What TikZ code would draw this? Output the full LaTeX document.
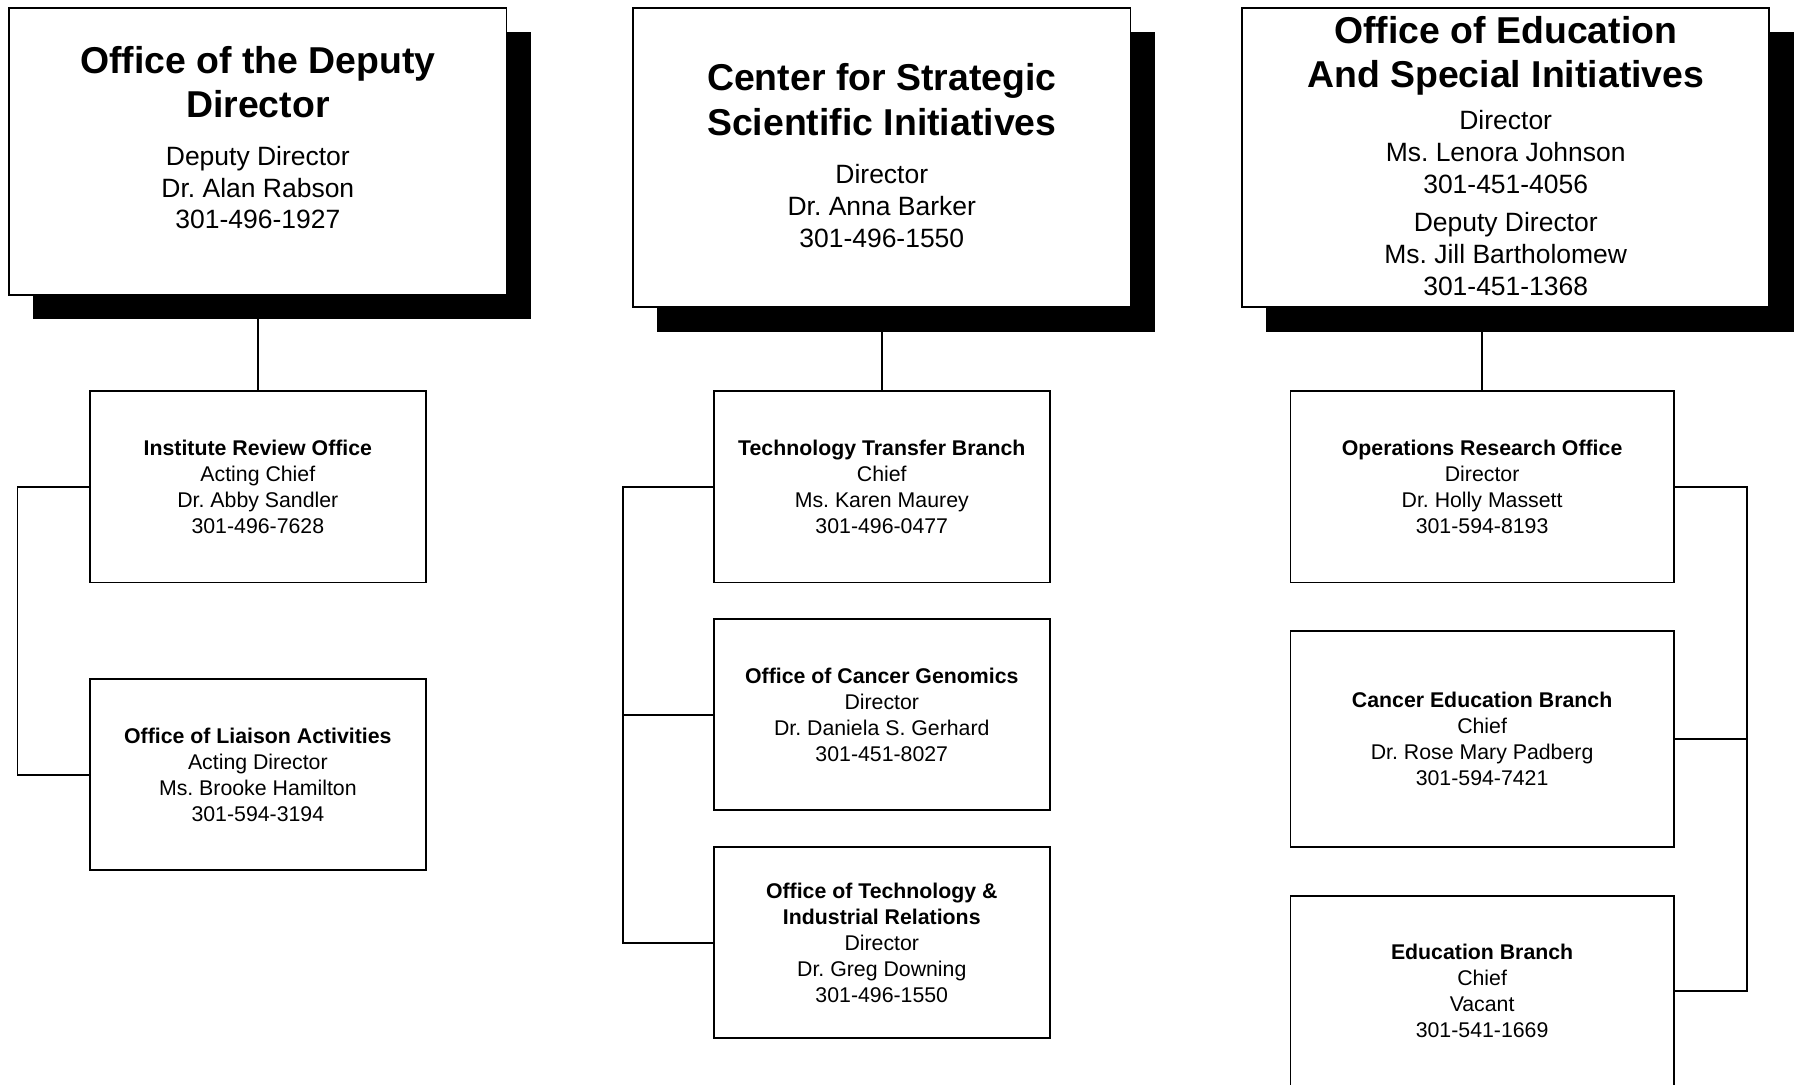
\documentclass[tikz,border=0pt]{standalone}
\usepackage{fontspec}
\setmainfont{Liberation Sans}
\usetikzlibrary{shadows}
\frenchspacing
\newcommand\topx{\rule{0pt}{0.76em}}
\tikzset{
  hbox/.style={draw=black,line width=1.6pt,fill=white,inner sep=0pt,
     drop shadow={shadow xshift=21pt,shadow yshift=-21pt,fill=black,opacity=1}},
  cbox/.style={draw=black,line width=1.6pt,fill=white,inner sep=0pt,align=center,
     font=\fontsize{18.5}{22.5}\selectfont,minimum width=292pt,minimum height=166pt},
  ttl/.style={anchor=north,inner sep=0pt,align=center,font=\bfseries\fontsize{32.5}{38.5}\selectfont},
  subt/.style={anchor=north,inner sep=0pt,align=center,font=\fontsize{23}{27.7}\selectfont},
  conn/.style={line width=1.6pt}
}
\begin{document}
\begin{tikzpicture}[x=1pt,y=-1pt]
\useasboundingbox (0,0) rectangle (1568,942);
\clip (0,0) rectangle (1568,942);
\fill[white] (0,0) rectangle (1568,942);
% headers
\node[hbox,minimum width=432pt,minimum height=249pt] (H1) at (224,131.5) {};
\node[ttl] (T1) at (224,39.0) {\topx Office of the Deputy\\Director};
\node[subt] (S1) at (224,125.8) {\topx Deputy Director\\Dr. Alan Rabson\\301-496-1927};

\node[hbox,minimum width=432pt,minimum height=260pt] (H2) at (766,137) {};
\node[ttl] (T2) at (766,54.1) {\topx Center for Strategic\\Scientific Initiatives};
\node[subt] (S2) at (766,141.7) {\topx Director\\Dr. Anna Barker\\301-496-1550};

\node[hbox,minimum width=458pt,minimum height=260pt] (H3) at (1308,137) {};
\node[ttl] (T3) at (1308,12.6) {\topx Office of Education\\And Special Initiatives};
\node[subt] (S3) at (1308,94.8) {\topx Director\\Ms. Lenora Johnson\\301-451-4056\\[5.5pt]Deputy Director\\Ms. Jill Bartholomew\\301-451-1368};

% column 1
\node[cbox] (A1) at (224,423) {\textbf{Institute Review Office}\\Acting Chief\\Dr. Abby Sandler\\301-496-7628};
\node[cbox] (B1) at (224,673) {\textbf{Office of Liaison Activities}\\Acting Director\\Ms. Brooke Hamilton\\301-594-3194};
% column 2
\node[cbox] (A2) at (766,423) {\textbf{Technology Transfer Branch}\\Chief\\Ms. Karen Maurey\\301-496-0477};
\node[cbox] (B2) at (766,621) {\textbf{Office of Cancer Genomics}\\Director\\Dr. Daniela S. Gerhard\\301-451-8027};
\node[cbox] (C2) at (766,819) {\textbf{Office of Technology \&}\\\textbf{Industrial Relations}\\Director\\Dr. Greg Downing\\301-496-1550};
% column 3
\node[cbox,minimum width=333pt] (A3) at (1287.5,423) {\textbf{Operations Research Office}\\Director\\Dr. Holly Massett\\301-594-8193};
\node[cbox,minimum width=333pt,minimum height=188pt] (B3) at (1287.5,642) {\textbf{Cancer Education Branch}\\Chief\\Dr. Rose Mary Padberg\\301-594-7421};
\node[cbox,minimum width=333pt] (C3) at (1287.5,861) {\textbf{Education Branch}\\Chief\\Vacant\\301-541-1669};

% connectors
\draw[conn] (H1.south) -- (A1.north);
\draw[conn] (H2.south) -- (A2.north);
\draw[conn] (A3.north) -- (A3.north |- H3.south);

\draw[conn] (A1.west) -- ++(-62,0) |- (B1.west);
\draw[conn] (A2.west) -- ++(-78,0) |- (C2.west);
\draw[conn] (B2.west) -- ++(-78,0);
\draw[conn] (A3.east) -- ++(63,0) |- (C3.east);
\draw[conn] (B3.east) -- ++(63,0);
\end{tikzpicture}
\end{document}
